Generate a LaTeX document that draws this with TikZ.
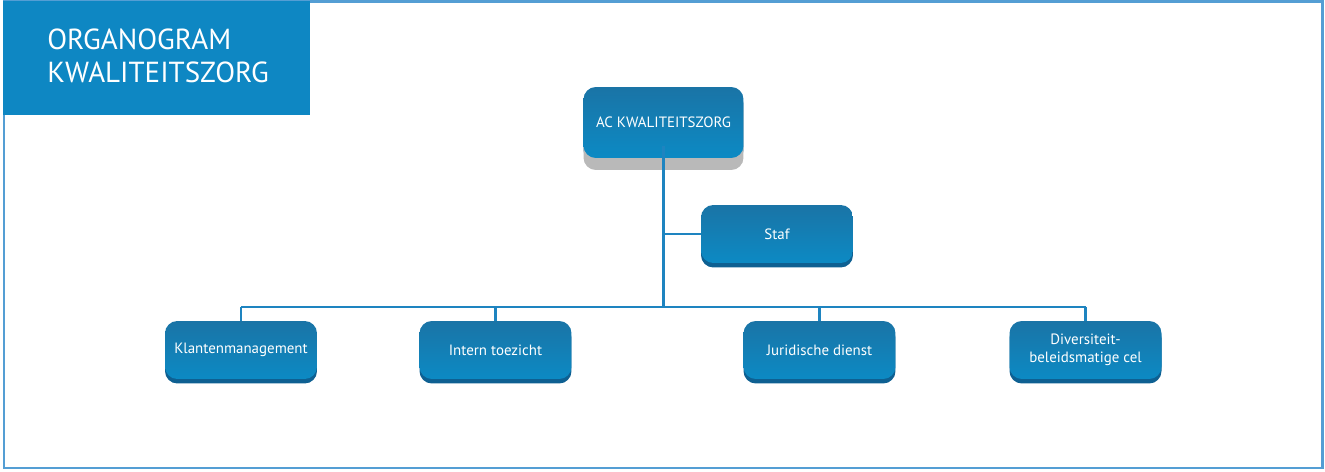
\documentclass[tikz,border=0pt]{standalone}
\usepackage{fontspec}
\setmainfont{PT Sans}
\definecolor{frame}{RGB}{84,158,212}
\definecolor{titlebg}{RGB}{14,135,195}
\definecolor{boxtop}{RGB}{26,116,166}
\definecolor{boxbot}{RGB}{12,138,196}
\definecolor{boxlip}{RGB}{14,96,146}
\definecolor{link}{RGB}{30,132,192}
\definecolor{shade}{RGB}{185,185,185}
\begin{document}
\begin{tikzpicture}[x=0.02cm,y=-0.02cm,
  orgbox/.style={rounded corners=7pt, top color=boxtop, bottom color=boxbot, draw=none,
    text=white, font=\fontsize{8.5}{10}\selectfont, align=center, inner sep=0pt,
    minimum width=3.04cm, minimum height=1.16cm,
    preaction={fill=boxlip, transform canvas={yshift=-0.09cm}}},
  topbox/.style={orgbox, minimum width=3.2cm, minimum height=1.42cm,
    preaction={fill=shade, transform canvas={yshift=-0.24cm}}},
  conn/.style={draw=link, line width=1.2pt}]
\useasboundingbox (0,0) rectangle (1325,472);
% frame
\draw[frame, line width=1.7pt] (4,2) rectangle (1322,468);
\fill[titlebg] (3,1) rectangle (310,115);
\node[anchor=north west, text=white, align=left, inner sep=0pt,
  font=\fontsize{16.5}{18.5}\selectfont] (title) at (47,29) {ORGANOGRAM\\KWALITEITSZORG};
% nodes
\node[topbox] (ac) at (663.5,122.5) {AC KWALITEITSZORG};
\node[orgbox] (staf) at (777,234) {Staf};
\node[orgbox] (klant) at (241,350) {Klantenmanagement};
\node[orgbox] (intern) at (495.5,350) {Intern toezicht};
\node[orgbox] (jur) at (819.5,350) {Juridische dienst};
\node[orgbox] (div) at (1085.5,350) {Diversiteit-\\beleidsmatige cel};
\coordinate (bar) at (663.5,307);
% connectors
\draw[conn] (ac.south) ++(0,0.24cm) -- (bar);
\draw[conn] (ac.south |- staf.west) -- (staf.west);
\draw[conn] (klant |- bar) -- (div |- bar);
\draw[conn] (klant |- bar) -- (klant.north);
\draw[conn] (intern |- bar) -- (intern.north);
\draw[conn] (jur |- bar) -- (jur.north);
\draw[conn] (div |- bar) -- (div.north);
\end{tikzpicture}
\end{document}
